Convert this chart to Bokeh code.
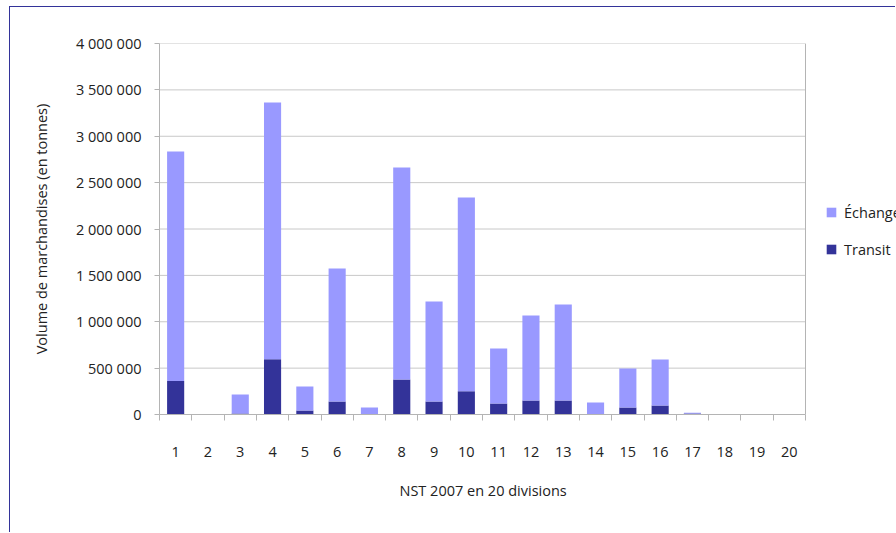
from bokeh.plotting import figure
from bokeh.models import (ColumnDataSource, Range1d, FixedTicker, LinearAxis, Span, Title,
                          CustomJSTickFormatter, Legend, LegendItem)
from bokeh.embed import file_html
from bokeh.resources import INLINE

# ---- data ----
divisions = list(range(1, 21))
tick_labels = [str(d) for d in divisions]
transit = [360000, 0, 10000, 595000, 43000, 140000, 0, 378000, 140000, 251000,
           119000, 151000, 151000, 0, 75000, 97000, 12000, 0, 0, 0]
echange = [2476000, 0, 206000, 2769000, 259000, 1434000, 75000, 2285000, 1078000, 2089000,
           593000, 916000, 1035000, 129000, 421000, 496000, 8000, 0, 0, 0]
y_ticks = [0, 500000, 1000000, 1500000, 2000000, 2500000, 3000000, 3500000, 4000000]
x_title = "NST 2007 en 20 divisions"
y_title = "Volume de marchandises (en tonnes)"

C_ECH = "#9999FF"
C_TRA = "#333399"
FONT = "Open Sans"
FS = "14.5px"
TXT = "#222222"
AX = "#b4b4b4"
GRID = "#c8c8c8"

# layout (pixels)
FIG_W, FIG_H = 886, 526
LEFT, TOP, BOTTOM = 149, 36, 119
PLOT_W = 646                      # width of the category area
frame_w = FIG_W - LEFT            # frame runs to the right edge (room for legend)
x_lo = divisions[0] - 0.5
x_hi = divisions[-1] + 0.5
x_end = x_lo + (x_hi - x_lo) * frame_w / PLOT_W

src = ColumnDataSource(dict(x=divisions, transit=transit, echange=echange))
grid_src = ColumnDataSource(dict(x0=[x_lo] * len(y_ticks), x1=[x_hi] * len(y_ticks),
                                 y=y_ticks))

p = figure(width=FIG_W, height=FIG_H, output_backend="svg", toolbar_location=None,
           x_range=Range1d(x_lo, x_end), y_range=Range1d(0, y_ticks[-1]),
           min_border_left=LEFT, min_border_right=0, min_border_top=TOP,
           min_border_bottom=BOTTOM, x_axis_type=None, y_axis_type=None)
p.styles = {"margin-left": "9px", "margin-top": "6px",
            "border-left": "1px solid #333399", "border-top": "1px solid #333399"}
p.outline_line_color = None
p.background_fill_color = "white"
p.border_fill_color = "white"

# horizontal grid lines limited to the category area, and right border of the plot area
p.segment(x0="x0", x1="x1", y0="y", y1="y", source=grid_src,
          line_color=GRID, line_width=1, level="underlay")
p.add_layout(Span(location=x_hi, dimension="height", line_color=AX, line_width=1))

rs = p.vbar_stack(["transit", "echange"], x="x", width=0.53, source=src,
                  color=[C_TRA, C_ECH], line_color=None)

# y axis
yax = LinearAxis(ticker=FixedTicker(ticks=y_ticks),
                 formatter=CustomJSTickFormatter(code="""
                    return Math.round(tick).toString().replace(/\\B(?=(\\d{3})+(?!\\d))/g, ' ');
                 """))
yax.axis_label = y_title
yax.axis_label_text_font = FONT
yax.axis_label_text_font_style = "normal"
yax.axis_label_text_font_size = FS
yax.axis_label_text_color = TXT
yax.axis_label_standoff = 22
yax.major_label_text_font = FONT
yax.major_label_text_font_size = FS
yax.major_label_text_color = TXT
yax.major_label_standoff = 13
yax.axis_line_color = AX
yax.major_tick_line_color = AX
yax.major_tick_out = 5
yax.major_tick_in = 0
yax.minor_tick_line_color = None
p.add_layout(yax, "left")

# x axis: labels at category centres, tick marks at category boundaries
boundaries = [d - 0.5 for d in divisions] + [x_hi]
xax = LinearAxis(ticker=FixedTicker(ticks=divisions, minor_ticks=boundaries),
                 major_label_overrides={d: l for d, l in zip(divisions, tick_labels)},
                 bounds=(x_lo, x_hi))
xax.axis_line_color = AX
xax.major_tick_line_color = None
xax.major_tick_out = 0
xax.major_tick_in = 0
xax.minor_tick_line_color = AX
xax.minor_tick_out = 6
xax.minor_tick_in = 0
xax.major_label_standoff = 26
xax.major_label_text_font = FONT
xax.major_label_text_font_size = FS
xax.major_label_text_color = TXT
p.add_layout(xax, "below")

# x-axis title, centred under the category area (not the wider frame)
p.add_layout(Title(text=x_title, align="left", offset=240, standoff=38,
                   text_font=FONT, text_font_size=FS, text_font_style="normal",
                   text_color=TXT), "below")

legend = Legend(items=[LegendItem(label="Échange", renderers=[rs[1]]),
                       LegendItem(label="Transit", renderers=[rs[0]])],
                location=(PLOT_W + 20, 155), orientation="vertical",
                glyph_width=12, glyph_height=12, label_height=20,
                spacing=17, padding=0, margin=0, label_standoff=7,
                label_text_font=FONT, label_text_font_size=FS,
                label_text_color=TXT, border_line_color=None,
                background_fill_alpha=0)
p.add_layout(legend, "center")

open("out.html", "w").write(file_html(p, INLINE))
